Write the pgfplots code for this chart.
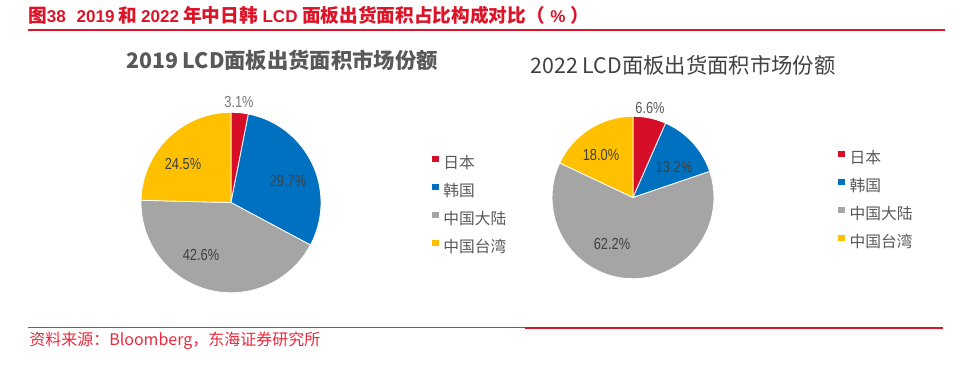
\documentclass[border=0pt]{standalone}
\usepackage{fontspec}
\usepackage{graphicx}
\usepackage{pgfplots}
\pgfplotsset{compat=1.18}
\setmainfont{Noto Sans CJK SC}
\newfontfamily\lat{Liberation Sans}
\newfontfamily\cjk{Noto Sans CJK SC}

\definecolor{cjp}{RGB}{214,14,40}
\definecolor{ckr}{RGB}{0,112,192}
\definecolor{ccn}{RGB}{165,165,165}
\definecolor{ctw}{RGB}{255,192,0}
\definecolor{tred}{RGB}{220,20,40}
\definecolor{sred}{RGB}{235,40,60}
\definecolor{tgray}{RGB}{89,89,89}
\definecolor{lgray}{RGB}{64,64,64}
\definecolor{ogray}{RGB}{120,120,120}

% shares (%): Japan, Korea, Mainland China, Taiwan
\def\Ja{3.1}\def\Ka{29.7}\def\Ma{42.6}\def\Ta{24.5}
\def\Jb{6.6}\def\Kb{13.2}\def\Mb{62.2}\def\Tb{18.0}

\pgfplotsset{
  canvas/.style={width=720pt,height=289.5pt,scale only axis,
    xmin=0,xmax=960,ymin=0,ymax=386,hide axis,clip=false},
  pieslice/.style={draw=white,line width=0.6pt,samples=45,variable=\t},
  pielegend/.style={
    legend cell align=left,
    legend image code/.code={\path[##1,draw=none] (0pt,1.4pt) rectangle (4.8pt,6.2pt);},
    legend style={draw=none,fill=none,inner sep=0pt,anchor=north west,
      font=\fontsize{11.8}{13}\selectfont,text=tgray,
      nodes={inner sep=0pt,text height=9pt,text depth=3pt},
      row sep=8.8pt,column sep=3.6pt}}
}
\tikzset{lab/.style={font=\lat\fontsize{12}{14}\selectfont,text=lgray,inner sep=0pt}}
\newcommand\C[1]{{\cjk\fontsize{14}{16}\selectfont #1}}
\newcommand\Lt[1]{{\lat\fontsize{12.8}{14}\selectfont #1}}

\begin{document}
\begin{tikzpicture}
% ---------- 2019 ----------
\begin{axis}[canvas,pielegend,legend style={at={(axis description cs:0.450,0.598)}}]
\path (axis cs:0,0) rectangle (axis cs:960,386);
\addplot[pieslice,fill=cjp,domain={90-3.6*\Ja}:90]
  ({231+90*cos(\t)},{184+90*sin(\t)}) -- (axis cs:231,184) -- cycle;
\addlegendentry{日本}
\addplot[pieslice,fill=ckr,domain={90-3.6*(\Ja+\Ka)}:{90-3.6*\Ja}]
  ({231+90*cos(\t)},{184+90*sin(\t)}) -- (axis cs:231,184) -- cycle;
\addlegendentry{韩国}
\addplot[pieslice,fill=ccn,domain={90-3.6*(\Ja+\Ka+\Ma)}:{90-3.6*(\Ja+\Ka)}]
  ({231+90*cos(\t)},{184+90*sin(\t)}) -- (axis cs:231,184) -- cycle;
\addlegendentry{中国大陆}
\addplot[pieslice,fill=ctw,domain={-270}:{90-3.6*(\Ja+\Ka+\Ma)}]
  ({231+90*cos(\t)},{184+90*sin(\t)}) -- (axis cs:231,184) -- cycle;
\addlegendentry{中国台湾}

\node[lab,text=ogray] at (axis cs:239,284) {\scalebox{0.8}[1]{3.1\%}};
\node[lab] at (axis cs:288,205) {\scalebox{0.8}[1]{29.7\%}};
\node[lab] at (axis cs:201,132) {\scalebox{0.8}[1]{42.6\%}};
\node[lab] at (axis cs:183,222) {\scalebox{0.8}[1]{24.5\%}};

\node[font=\bfseries\fontsize{16}{18}\selectfont,text=tgray,inner sep=0pt]
  at (axis cs:282,326) {2019 LCD面板出货面积市场份额};

% page title
\node[anchor=west,inner sep=0pt,text=tred] at (axis cs:28,371)
  {\bfseries\C{图}\Lt{38}\hspace{8pt}\Lt{2019}\hspace{3pt}\C{和}\hspace{3pt}\Lt{2022}\hspace{3pt}\C{年中日韩}\hspace{3.5pt}\Lt{LCD}\hspace{3.5pt}\C{面板出货面积占比构成对比（}\hspace{4pt}\Lt{\%}\hspace{4pt}\C{）}};
\draw[tred,line width=1.5pt] (axis cs:28,356) -- (axis cs:945,356);
\draw[sred,line width=0.8pt] (axis cs:28,59) -- (axis cs:525,59);
\draw[tred,line width=1.6pt] (axis cs:525,59) -- (axis cs:943,59);
\node[anchor=west,inner sep=0pt,text=sred,font=\fontsize{12}{14}\selectfont]
  at (axis cs:29,46) {资料来源：Bloomberg，东海证券研究所};
\end{axis}

% ---------- 2022 ----------
\begin{axis}[canvas,pielegend,legend style={at={(axis description cs:0.873,0.611)}}]
\addplot[pieslice,fill=cjp,domain={90-3.6*\Jb}:90]
  ({633+81*cos(\t)},{189+81*sin(\t)}) -- (axis cs:633,189) -- cycle;
\addlegendentry{日本}
\addplot[pieslice,fill=ckr,domain={90-3.6*(\Jb+\Kb)}:{90-3.6*\Jb}]
  ({633+81*cos(\t)},{189+81*sin(\t)}) -- (axis cs:633,189) -- cycle;
\addlegendentry{韩国}
\addplot[pieslice,fill=ccn,domain={90-3.6*(\Jb+\Kb+\Mb)}:{90-3.6*(\Jb+\Kb)}]
  ({633+81*cos(\t)},{189+81*sin(\t)}) -- (axis cs:633,189) -- cycle;
\addlegendentry{中国大陆}
\addplot[pieslice,fill=ctw,domain={90-3.6*(\Jb+\Kb+\Mb+\Tb)}:{90-3.6*(\Jb+\Kb+\Mb)}]
  ({633+81*cos(\t)},{189+81*sin(\t)}) -- (axis cs:633,189) -- cycle;
\addlegendentry{中国台湾}

\node[lab,text=tgray] at (axis cs:650,278) {\scalebox{0.8}[1]{6.6\%}};
\node[lab] at (axis cs:674,219) {\scalebox{0.8}[1]{13.2\%}};
\node[lab] at (axis cs:612,143) {\scalebox{0.8}[1]{62.2\%}};
\node[lab] at (axis cs:601,231) {\scalebox{0.8}[1]{18.0\%}};

\node[font=\fontsize{16}{18}\selectfont,text=lgray,inner sep=0pt]
  at (axis cs:683,321) {2022 LCD面板出货面积市场份额};
\end{axis}
\end{tikzpicture}
\end{document}
